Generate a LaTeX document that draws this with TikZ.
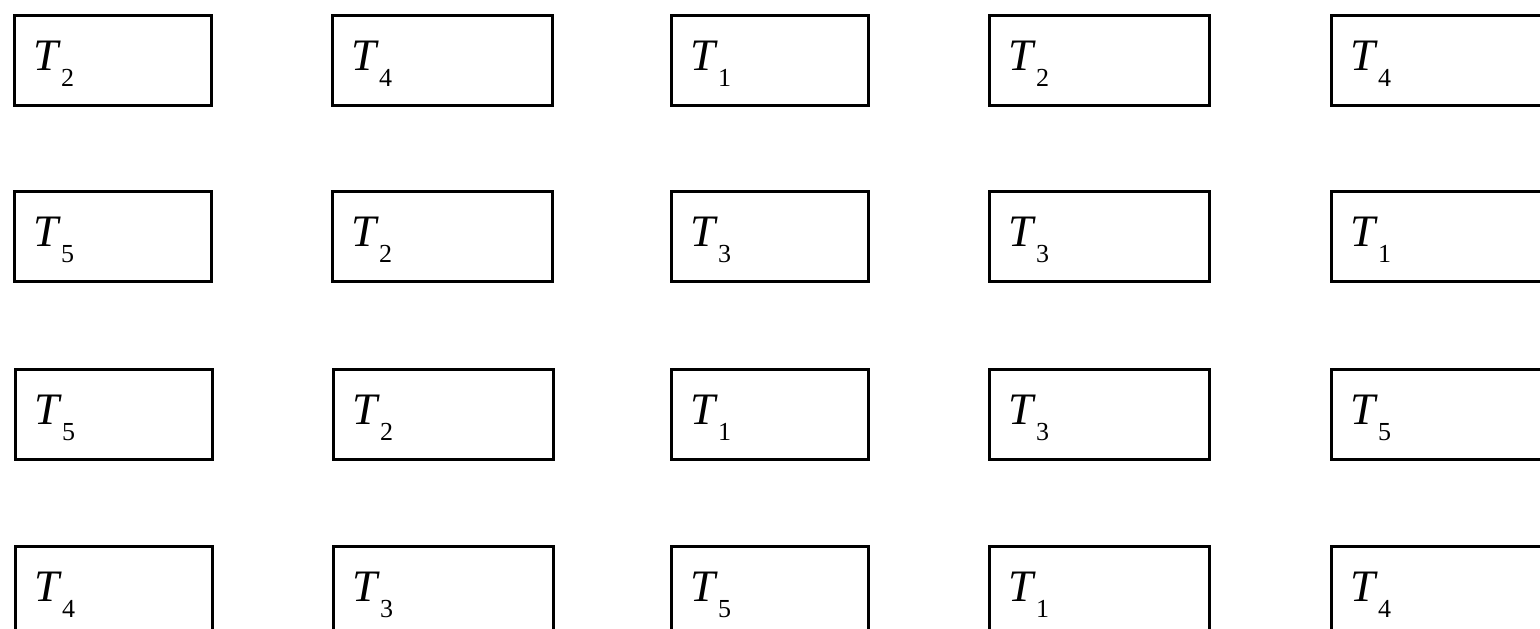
\documentclass[tikz,border=0pt]{standalone}
\usepackage{fontspec}
\setmainfont{Liberation Serif}
\usetikzlibrary{positioning,calc}

% task name with a low subscript
\newcommand{\task}[1]{{\itshape T}\hspace{3pt}\raisebox{-16pt}{\fontsize{26}{26}\selectfont #1}}

\begin{document}
\begin{tikzpicture}[
  x=1pt, y=-1pt,
  slot/.style={rectangle, draw=black, line width=2.5pt, anchor=north west, minimum height=90pt, inner sep=0pt},
  narrow/.style={slot, minimum width=197pt},
  wide/.style={slot, minimum width=220pt},
  tname/.style={anchor=base west, inner sep=0pt, font=\fontsize{45}{45}\selectfont}
]
  \useasboundingbox (0,0) rectangle (1540,629);

  % Row 1
  \node[narrow] (a1) at (13, 14) {};
  \node[wide]   (a2) at (331, 14) {};
  \node[narrow] (a3) at (670, 14) {};
  \node[wide]   (a4) at (988, 14) {};
  \node[wide, minimum width=240pt] (a5) at (1330, 14) {};

  % Row 2
  \node[narrow] (b1) at (13, 190) {};
  \node[wide]   (b2) at (331, 190) {};
  \node[narrow] (b3) at (670, 190) {};
  \node[wide]   (b4) at (988, 190) {};
  \node[wide, minimum width=240pt] (b5) at (1330, 190) {};

  % Row 3
  \node[narrow] (c1) at (14, 368) {};
  \node[wide]   (c2) at (332, 368) {};
  \node[narrow] (c3) at (670, 368) {};
  \node[wide]   (c4) at (988, 368) {};
  \node[wide, minimum width=240pt] (c5) at (1330, 368) {};

  % Row 4 (cut off at the bottom)
  \node[narrow] (d1) at (14, 545) {};
  \node[wide]   (d2) at (332, 545) {};
  \node[narrow] (d3) at (670, 545) {};
  \node[wide]   (d4) at (988, 545) {};
  \node[wide, minimum width=240pt] (d5) at (1330, 545) {};

  % Task labels
  \node[tname] (la1) at ($(a1.north west)+(20,56)$) {\task{2}};
  \node[tname] (la2) at ($(a2.north west)+(20,56)$) {\task{4}};
  \node[tname] (la3) at ($(a3.north west)+(20,56)$) {\task{1}};
  \node[tname] (la4) at ($(a4.north west)+(20,56)$) {\task{2}};
  \node[tname] (la5) at ($(a5.north west)+(20,56)$) {\task{4}};

  \node[tname] (lb1) at ($(b1.north west)+(20,56)$) {\task{5}};
  \node[tname] (lb2) at ($(b2.north west)+(20,56)$) {\task{2}};
  \node[tname] (lb3) at ($(b3.north west)+(20,56)$) {\task{3}};
  \node[tname] (lb4) at ($(b4.north west)+(20,56)$) {\task{3}};
  \node[tname] (lb5) at ($(b5.north west)+(20,56)$) {\task{1}};

  \node[tname] (lc1) at ($(c1.north west)+(20,56)$) {\task{5}};
  \node[tname] (lc2) at ($(c2.north west)+(20,56)$) {\task{2}};
  \node[tname] (lc3) at ($(c3.north west)+(20,56)$) {\task{1}};
  \node[tname] (lc4) at ($(c4.north west)+(20,56)$) {\task{3}};
  \node[tname] (lc5) at ($(c5.north west)+(20,56)$) {\task{5}};

  \node[tname] (ld1) at ($(d1.north west)+(20,56)$) {\task{4}};
  \node[tname] (ld2) at ($(d2.north west)+(20,56)$) {\task{3}};
  \node[tname] (ld3) at ($(d3.north west)+(20,56)$) {\task{5}};
  \node[tname] (ld4) at ($(d4.north west)+(20,56)$) {\task{1}};
  \node[tname] (ld5) at ($(d5.north west)+(20,56)$) {\task{4}};
\end{tikzpicture}
\end{document}
